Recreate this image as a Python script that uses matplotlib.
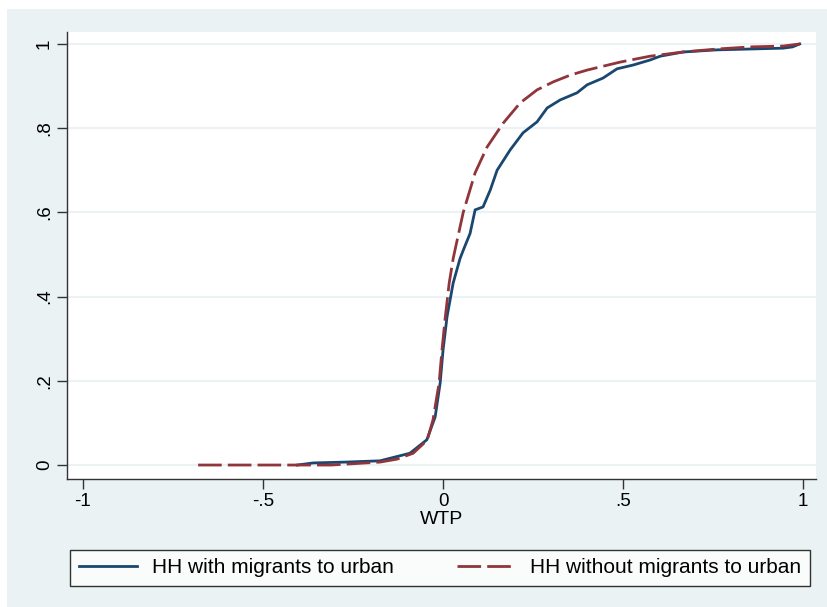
import numpy as np
import matplotlib.pyplot as plt
from matplotlib.patches import Rectangle

plt.rcParams['font.family'] = ['Liberation Sans', 'DejaVu Sans']

# CDF of WTP, HH with migrants to urban
x_with = [-0.405, -0.36, -0.27, -0.175, -0.092, -0.045, -0.022, -0.008, 0.0, 0.011,
          0.028, 0.047, 0.056, 0.075, 0.089, 0.111, 0.131, 0.15, 0.186, 0.222,
          0.261, 0.289, 0.325, 0.372, 0.40, 0.444, 0.483, 0.528, 0.575, 0.603,
          0.667, 0.761, 0.853, 0.944, 0.97, 0.99]
y_with = [0.0, 0.005, 0.007, 0.01, 0.028, 0.06, 0.114, 0.195, 0.273, 0.352,
          0.432, 0.49, 0.51, 0.55, 0.606, 0.613, 0.653, 0.70, 0.748, 0.789,
          0.815, 0.848, 0.867, 0.884, 0.903, 0.919, 0.941, 0.95, 0.962, 0.971,
          0.981, 0.986, 0.988, 0.99, 0.993, 1.0]

# CDF of WTP, HH without migrants to urban
x_without = [-0.68, -0.31, -0.175, -0.128, -0.083, -0.044, -0.028, -0.011, -0.003, 0.006,
             0.017, 0.028, 0.033, 0.056, 0.089, 0.122, 0.167, 0.214, 0.261, 0.306,
             0.353, 0.40, 0.492, 0.575, 0.667, 0.761, 0.853, 0.944, 0.99]
y_without = [0.0, 0.0, 0.007, 0.014, 0.028, 0.059, 0.107, 0.195, 0.273, 0.35,
             0.432, 0.49, 0.51, 0.60, 0.694, 0.755, 0.812, 0.86, 0.891, 0.91,
             0.926, 0.938, 0.957, 0.971, 0.981, 0.988, 0.993, 0.995, 1.0]

x_ticks = [-1, -0.5, 0, 0.5, 1]
x_ticklabels = ['-1', '-.5', '0', '.5', '1']
y_ticks = [0, 0.2, 0.4, 0.6, 0.8, 1]
y_ticklabels = ['0', '.2', '.4', '.6', '.8', '1']

bg = '#EAF2F3'
navy = '#1A476F'
maroon = '#90353B'

fig = plt.figure(figsize=(8.27, 6.07), dpi=100, facecolor='white')
fig.patches.append(Rectangle((7 / 827, 0), 1, 1 - 9 / 607, transform=fig.transFigure,
                             facecolor=bg, edgecolor='none', zorder=-10))

ax = fig.add_axes([0.081, 0.211, 0.906, 0.736])
ax.set_facecolor('white')
ax.plot(x_with, y_with, color=navy, lw=2.0, label='HH with migrants to urban', zorder=3)
ax.plot(x_without, y_without, color=maroon, lw=2.0, dashes=(8.5, 2.2),
        label='HH without migrants to urban', zorder=4)

ax.set_xlim(-1.044, 1.036)
ax.set_ylim(-0.033, 1.028)
ax.set_xticks(x_ticks)
ax.set_xticklabels(x_ticklabels)
ax.set_yticks(y_ticks)
ax.set_yticklabels(y_ticklabels, rotation=90, va='center')
ax.tick_params(labelsize=13.5, length=7, width=1, color='#333333', pad=3)
ax.grid(axis='y', color=bg, lw=1.5, zorder=0)
ax.set_axisbelow(True)
for s in ['top', 'right']:
    ax.spines[s].set_visible(False)
for s in ['left', 'bottom']:
    ax.spines[s].set_color('#333333')
    ax.spines[s].set_linewidth(1)
ax.set_xlabel('WTP', fontsize=14, labelpad=1)

leg = fig.legend(loc='lower left', bbox_to_anchor=(0.085, 0.035, 0.894, 0.062),
                 mode='expand', ncol=2, fontsize=15, handlelength=2.8,
                 handletextpad=0.7, frameon=True, fancybox=False, borderaxespad=0,
                 borderpad=0.4)
leg.get_frame().set_edgecolor('black')
leg.get_frame().set_linewidth(1)

fig.savefig('out.png', dpi=100, facecolor=fig.get_facecolor())
